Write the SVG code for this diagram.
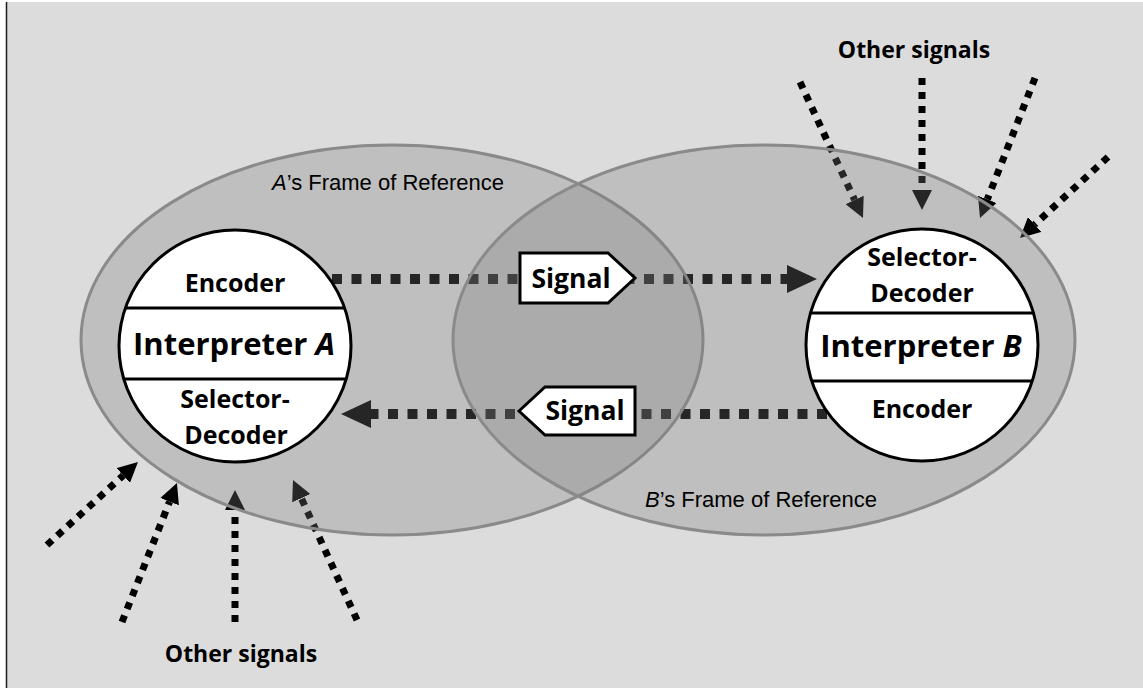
<svg xmlns="http://www.w3.org/2000/svg" width="1143" height="688" viewBox="0 0 1143 688">
  <style>
    .frame { fill: #7f7f7f; fill-opacity: 0.3; stroke: #8a8a8a; stroke-width: 3; }
    .interp { fill: #ffffff; stroke: #000000; stroke-width: 3; }
    .divider { stroke: #000000; stroke-width: 3; }
    .sigbox { fill: #ffffff; stroke: #000000; stroke-width: 3; stroke-linejoin: miter; }
    .main { fill: none; stroke: #000000; stroke-width: 10; stroke-dasharray: 10 9.5; }
    .ext { fill: none; stroke: #000000; stroke-width: 7; stroke-dasharray: 7 7; }
    .lbl { font-family: "Open Sans", "Noto Sans", sans-serif; font-weight: bold; fill: #000000; text-anchor: middle; }
    .part { font-size: 25px; }
    .title { font-size: 31px; }
    .sig { font-size: 26.5px; }
    .other { font-size: 23px; }
    .frametxt { font-family: "Liberation Sans", Arial, sans-serif; font-size: 22px; fill: #000000; }
  </style>
  <defs>
    <marker id="headL" markerUnits="userSpaceOnUse" markerWidth="30" markerHeight="28" refX="0" refY="14" orient="auto">
      <path d="M0,0 L30,14 L0,28 z" fill="#000000"/>
    </marker>
    <marker id="headS" markerUnits="userSpaceOnUse" markerWidth="20" markerHeight="20" refX="0" refY="10" orient="auto">
      <path d="M0,0 L20,10 L0,20 z" fill="#000000"/>
    </marker>
  </defs>

  <!-- background -->
  <rect x="0" y="0" width="1143" height="688" fill="#ffffff"/>
  <rect x="7" y="2" width="1136" height="686" fill="#dcdcdc"/>
  <line x1="6.5" y1="2" x2="6.5" y2="688" stroke="#1a1a1a" stroke-width="1.5"/>

  <!-- connectors (drawn beneath the translucent frames) -->
  <g id="connectors">
    <path class="main" d="M332,279 L787,279" marker-end="url(#headL)"/>
    <path class="main" d="M827,414 L371,414" marker-end="url(#headL)"/>
    <!-- other signals into B -->
    <path class="ext" d="M800,82 L854.6,199.9" marker-end="url(#headS)"/>
    <path class="ext" d="M922,78 L922,190" marker-end="url(#headS)"/>
    <path class="ext" d="M1035,78 L987.3,199.4" marker-end="url(#headS)"/>
    <path class="ext" d="M1108,157 L1034.7,224.5" marker-end="url(#headS)"/>
    <!-- other signals into A -->
    <path class="ext" d="M47,545 L123.2,475.5" marker-end="url(#headS)"/>
    <path class="ext" d="M122,622 L169.6,501.6" marker-end="url(#headS)"/>
    <path class="ext" d="M235,622 L235,510" marker-end="url(#headS)"/>
    <path class="ext" d="M357,620 L301.3,498.2" marker-end="url(#headS)"/>
  </g>

  <g id="frameA">
    <ellipse class="frame" cx="392" cy="340" rx="311" ry="195"/>
    <text class="frametxt" x="272" y="190"><tspan font-style="italic">A</tspan>’s Frame of Reference</text>
  </g>
  <g id="frameB">
    <ellipse class="frame" cx="764" cy="340" rx="311" ry="195"/>
    <text class="frametxt" x="645" y="507"><tspan font-style="italic">B</tspan>’s Frame of Reference</text>
  </g>

  <g id="interpreterA">
    <circle class="interp" cx="235" cy="346" r="116"/>
    <line class="divider" x1="125.4" y1="308" x2="344.6" y2="308"/>
    <line class="divider" x1="123.8" y1="379" x2="346.2" y2="379"/>
    <text class="lbl part" x="235" y="292">Encoder</text>
    <text class="lbl title" x="234" y="355">Interpreter <tspan font-style="italic">A</tspan></text>
    <text class="lbl part" x="235" y="408">Selector-</text>
    <text class="lbl part" x="236" y="444">Decoder</text>
  </g>

  <g id="interpreterB">
    <circle class="interp" cx="922" cy="345" r="116"/>
    <line class="divider" x1="810.5" y1="313" x2="1033.5" y2="313"/>
    <line class="divider" x1="811.7" y1="381" x2="1032.3" y2="381"/>
    <text class="lbl part" x="922" y="266">Selector-</text>
    <text class="lbl part" x="922" y="302">Decoder</text>
    <text class="lbl title" x="921" y="357">Interpreter <tspan font-style="italic">B</tspan></text>
    <text class="lbl part" x="922" y="418">Encoder</text>
  </g>

  <g id="signalAB">
    <path class="sigbox" d="M520,253 L608,253 L635,278 L608,303 L520,303 z"/>
    <text class="lbl sig" x="571" y="288">Signal</text>
  </g>
  <g id="signalBA">
    <path class="sigbox" d="M519,411 L545,387 L635,387 L635,435 L545,435 z"/>
    <text class="lbl sig" x="585" y="420">Signal</text>
  </g>

  <g id="otherSignalsB">
    <text class="lbl other" x="914" y="58">Other signals</text>
  </g>
  <g id="otherSignalsA">
    <text class="lbl other" x="241" y="662">Other signals</text>
  </g>
</svg>
